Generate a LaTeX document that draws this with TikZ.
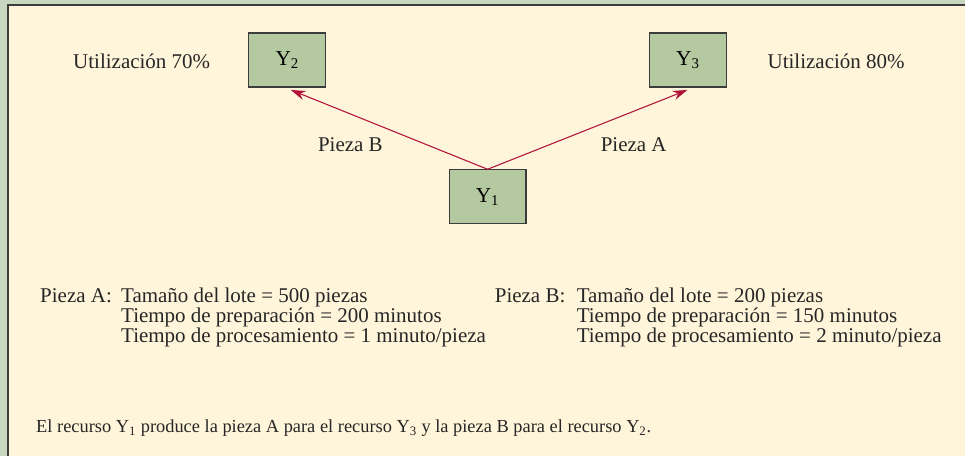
\documentclass[tikz,border=0pt]{standalone}
\usepackage{fontspec}
\setmainfont{Liberation Serif}
\usetikzlibrary{arrows.meta,positioning}
\definecolor{fondo}{RGB}{200,216,192}
\definecolor{crema}{RGB}{255,245,218}
\definecolor{caja}{RGB}{180,201,160}
\definecolor{flecha}{RGB}{176,18,58}
\definecolor{borde}{RGB}{60,60,60}

\begin{document}
\begin{tikzpicture}[
        x=0.75pt, y=-0.75pt,
        recurso/.style={
            draw=borde, fill=caja, line width=0.9pt,
            minimum width=57.75pt, minimum height=40.5pt,
            font=\fontsize{16}{18}\selectfont
        },
        texto/.style={
            inner sep=0pt, anchor=base west, text=black!85,
            font=\fontsize{15.75}{18}\selectfont
        },
        nota/.style={
            inner sep=0pt, anchor=base west, text=black!85,
            font=\fontsize{13.8}{15}\selectfont
        },
        flujo/.style={
            draw=flecha, line width=0.8pt,
            -{Stealth[length=11pt,width=7pt]}
        }
    ]
    % fondo y marco
    \fill[fondo] (0,0) rectangle (966,456);
    \fill[crema] (8,5) rectangle (966,456);
    \draw[borde, line width=1.2pt] (8,456) -- (8,5) -- (966,5);
    \useasboundingbox (0,0) rectangle (966,456);

    % recursos
    \node[recurso] (y2) at (287.5,60) {Y\textsubscript{2}};
    \node[recurso] (y3) at (688.5,60) {Y\textsubscript{3}};
    \node[recurso] (y1) at (488,197) {Y\textsubscript{1}};

    \node[texto] (u2) at (73,69) {Utilización 70\%};
    \node[texto] (u3) at (768,69) {Utilización 80\%};

    % flujos
    \coordinate (b2) at (291,90);
    \coordinate (b3) at (688,90);
    \draw[flujo] (y1.north) -- (b2);
    \draw[flujo] (y1.north) -- (b3);
    \node[texto] (pb) at (318,152) {Pieza B};
    \node[texto] (pa) at (601,152) {Pieza A};

    % datos de las piezas
    \node[texto] (da) at (40,303) {Pieza A:};
    \node[texto] (da1) at (121,303) {Tamaño del lote = 500 piezas};
    \node[texto] (da2) at (121,323) {Tiempo de preparación = 200 minutos};
    \node[texto] (da3) at (121,343) {Tiempo de procesamiento = 1 minuto/pieza};

    \node[texto] (db) at (495,303) {Pieza B:};
    \node[texto] (db1) at (577,303) {Tamaño del lote = 200 piezas};
    \node[texto] (db2) at (577,323) {Tiempo de preparación = 150 minutos};
    \node[texto] (db3) at (577,343) {Tiempo de procesamiento = 2 minuto/pieza};

    % nota
    \node[nota] (n) at (36,433) {El recurso Y\textsubscript{1} produce la pieza A para el recurso Y\textsubscript{3} y la pieza B para el recurso Y\textsubscript{2}.};
\end{tikzpicture}
\end{document}
